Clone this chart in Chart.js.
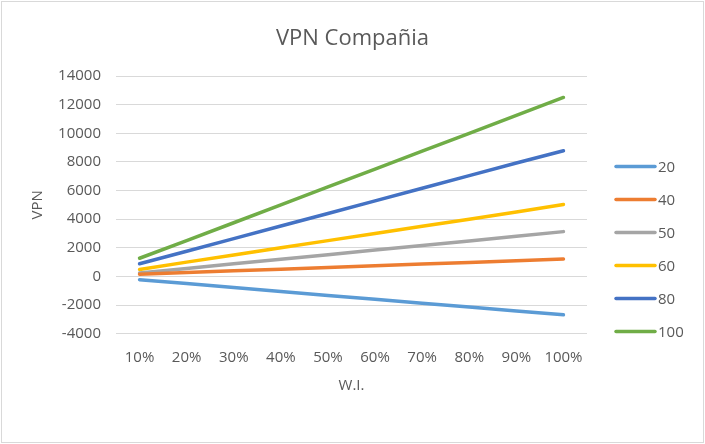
<!DOCTYPE html>
<html>
<head>
<meta charset="utf-8">
<script src="https://cdn.jsdelivr.net/npm/chart.js@4/dist/chart.umd.min.js"></script>
<style>
html,body{margin:0;padding:0;background:#fff;}
#wrap{position:relative;width:705px;height:444px;}
canvas{display:block;}
</style>
</head>
<body>
<div id="wrap"><canvas id="c" width="705" height="444"></canvas></div>
<script>
const categories = ['10%','20%','30%','40%','50%','60%','70%','80%','90%','100%'];
const seriesNames = ['20','40','50','60','80','100'];
const s20  = [-230, -500, -780, -1060, -1330, -1600, -1870, -2140, -2410, -2680];
const s40  = [150, 270, 390, 500, 620, 740, 860, 980, 1100, 1220];
const s50  = [240, 560, 880, 1200, 1520, 1840, 2160, 2480, 2800, 3130];
const s60  = [480, 1000, 1500, 2000, 2500, 3000, 3500, 4000, 4500, 5020];
const s80  = [890, 1760, 2640, 3520, 4400, 5280, 6160, 7040, 7920, 8780];
const s100 = [1270, 2500, 3750, 5000, 6250, 7500, 8750, 10000, 11250, 12500];
const yTicks = [-4000,-2000,0,2000,4000,6000,8000,10000,12000,14000];
const colors = ['#5B9BD5','#ED7D31','#A5A5A5','#FFC000','#4472C4','#70AD47'];
const allSeries = [s20, s40, s50, s60, s80, s100];

const FONT = '"Open Sans", sans-serif';
const TXT = '#595959';

const borderPlugin = {
  id: 'border',
  beforeDraw(chart) {
    const ctx = chart.ctx;
    ctx.save();
    ctx.fillStyle = '#fff';
    ctx.fillRect(0, 0, chart.width, chart.height);
    ctx.strokeStyle = '#d9d9d9';
    ctx.lineWidth = 1;
    ctx.strokeRect(1.5, 1.5, chart.width - 3, chart.height - 3);
    ctx.restore();
  }
};

const legendPlugin = {
  id: 'customLegend',
  afterDraw(chart) {
    const ctx = chart.ctx;
    const ca = chart.chartArea;
    const x0 = ca.right + 29;
    const y0 = 166.5;
    const step = 33;
    ctx.save();
    ctx.font = '15px ' + FONT;
    ctx.textBaseline = 'middle';
    ctx.textAlign = 'left';
    chart.data.datasets.forEach((ds, i) => {
      const y = y0 + step * i;
      ctx.strokeStyle = ds.borderColor;
      ctx.lineWidth = 3.5;
      ctx.lineCap = 'round';
      ctx.beginPath();
      ctx.moveTo(x0, y);
      ctx.lineTo(x0 + 39, y);
      ctx.stroke();
      ctx.fillStyle = TXT;
      ctx.fillText(ds.label, x0 + 42, y + 1);
    });
    ctx.restore();
  }
};

new Chart(document.getElementById('c'), {
  type: 'line',
  data: {
    labels: categories,
    datasets: seriesNames.map((n, i) => ({
      label: n,
      data: allSeries[i],
      yAxisID: 'y',
      borderColor: colors[i],
      backgroundColor: colors[i],
      borderWidth: 3.5,
      borderCapStyle: 'round',
      borderJoinStyle: 'round',
      pointRadius: 0,
      tension: 0,
      fill: false
    }))
  },
  options: {
    responsive: false,
    animation: false,
    layout: { padding: { left: 0, right: 0, top: 0, bottom: 49.7 } },
    plugins: {
      legend: { display: false },
      tooltip: { enabled: false },
      title: {
        display: true,
        text: 'VPN Compañia',
        color: TXT,
        font: { family: FONT, size: 22, weight: 'normal' },
        padding: { top: 25.5, bottom: 24.1 }
      }
    },
    scales: {
      x: {
        offset: true,
        afterFit(scale) { scale.height = 444 - 49.7 - 333.7; },
        grid: { display: false, drawTicks: false },
        border: { display: false },
        ticks: { color: TXT, font: { family: FONT, size: 15 }, padding: 15, maxRotation: 0, autoSkip: false },
        title: { display: true, text: 'W.I.', color: TXT, font: { family: FONT, size: 15 }, padding: { top: 9.6, bottom: 0 } }
      },
      y: {
        min: -4000,
        max: 14000,
        afterBuildTicks(scale) { scale.ticks = yTicks.map(v => ({ value: v })); },
        afterFit(scale) { scale.width = 116; },
        grid: { color: '#d9d9d9', lineWidth: 1, drawTicks: false },
        border: { display: false },
        ticks: { color: TXT, font: { family: FONT, size: 15 }, padding: 15, callback: v => String(v) },
        title: { display: true, text: 'VPN', color: TXT, font: { family: FONT, size: 15 }, padding: { top: 28.8, bottom: 0 } }
      },
      yR: {
        type: 'linear',
        position: 'right',
        min: -4000,
        max: 14000,
        afterFit(scale) { scale.width = 118; },
        grid: { display: false, drawTicks: false },
        border: { display: false },
        ticks: { display: false }
      }
    }
  },
  plugins: [borderPlugin, legendPlugin]
});
</script>
</body>
</html>
